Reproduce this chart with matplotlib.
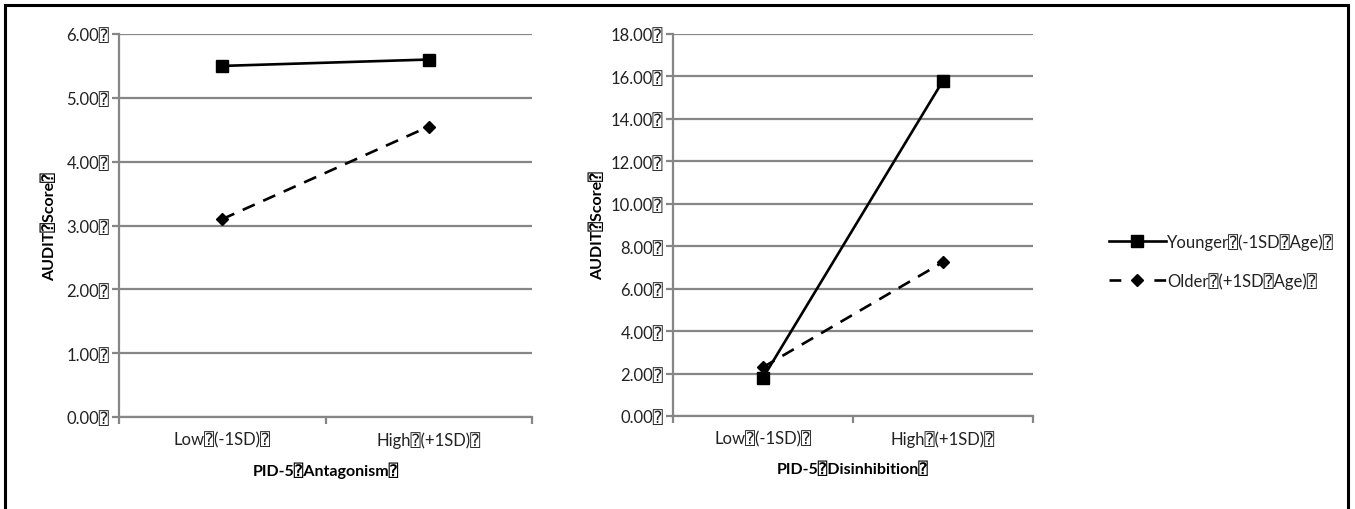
import matplotlib
matplotlib.use("Agg")
import matplotlib.pyplot as plt
from matplotlib.lines import Line2D
from matplotlib.patches import Rectangle

plt.rcParams['font.family'] = ['Lato', 'DejaVu Sans', 'DejaVu Sans Mono']

BOX = '\u2370'

categories = ['Low' + BOX + '(-1SD)' + BOX, 'High' + BOX + '(+1SD)' + BOX]
series_names = ['Younger' + BOX + '(-1SD' + BOX + 'Age)' + BOX,
                'Older' + BOX + '(+1SD' + BOX + 'Age)' + BOX]

antag_younger = [5.50, 5.60]
antag_older = [3.10, 4.55]
disinh_younger = [1.80, 15.80]
disinh_older = [2.30, 7.25]

antag_yticks = [0, 1, 2, 3, 4, 5, 6]
disinh_yticks = [0, 2, 4, 6, 8, 10, 12, 14, 16, 18]

xlabels = ['PID-5' + BOX + 'Antagonism' + BOX, 'PID-5' + BOX + 'Disinhibition' + BOX]
ylabel = 'AUDIT' + BOX + 'Score' + BOX

W, H = 1355, 510
fig = plt.figure(figsize=(W / 100, H / 100), dpi=100)

GRID = '#868686'
TXT = '#222222'
FS = 12

def make_ax(rect, young, old, yticks, xlabel, ylabelpad):
    ax = fig.add_axes(rect)
    x = [0.5, 1.5]
    ax.set_xlim(0, 2)
    ax.set_ylim(yticks[0], yticks[-1])
    ax.set_yticks(yticks)
    ax.set_yticklabels([f'{v:.2f}' + BOX for v in yticks])
    ax.yaxis.grid(True, color=GRID, linewidth=1.6)
    ax.set_axisbelow(True)
    ax.set_xticks(x)
    ax.set_xticklabels(categories)
    ax.set_xticks([0, 1, 2], minor=True)
    ax.tick_params(axis='x', which='major', length=0, pad=10, labelsize=FS, colors=TXT)
    ax.tick_params(axis='x', which='minor', length=5, width=1.6, color=GRID, direction='out')
    ax.tick_params(axis='y', length=5, width=1.6, color=GRID, pad=2, labelsize=FS, labelcolor=TXT)
    for s in ['top', 'right']:
        ax.spines[s].set_visible(False)
    for s in ['left', 'bottom']:
        ax.spines[s].set_color(GRID)
        ax.spines[s].set_linewidth(1.6)
    ax.plot(x, young, color='black', linewidth=1.9, marker='s', markersize=8.5, zorder=3, clip_on=False)
    ax.plot(x, old, color='black', linewidth=1.9, linestyle=(0, (5, 3.5)), marker='D',
            markersize=6.2, zorder=3, clip_on=False)
    ax.set_xlabel(xlabel, fontsize=11.5, fontweight='bold', labelpad=10)
    ax.set_ylabel(ylabel, fontsize=11.5, fontweight='bold', labelpad=ylabelpad)
    return ax

def frac(x0, x1, ytop, ybot):
    return [x0 / W, 1 - ybot / H, (x1 - x0) / W, (ybot - ytop) / H]

ax1 = make_ax(frac(119, 532, 35, 418), antag_younger, antag_older, antag_yticks, xlabels[0], 7)
ax2 = make_ax(frac(673, 1033, 35, 417), disinh_younger, disinh_older, disinh_yticks, xlabels[1], 4)

HL = 3.4
hl_pt = HL * FS
handles = [
    Line2D([], [], color='black', linewidth=1.9, marker='s', markersize=8.5),
    Line2D([], [], color='black', linewidth=1.9,
           linestyle=(0, (8.5 / 1.9, (hl_pt - 17) / 1.9)), marker='D', markersize=6.2),
]
fig.legend(handles, series_names, loc='center left', bbox_to_anchor=(1094 / W, 1 - 262 / H),
           frameon=False, fontsize=FS, handlelength=HL, handletextpad=0.1, labelspacing=1.3,
           labelcolor=TXT)

fig.patches.append(Rectangle((4.5 / W, -0.1), (1348 - 4.5) / W, 1.1 - 6 / H,
                             transform=fig.transFigure, fill=False, edgecolor='black',
                             linewidth=2.2, zorder=10))

fig.savefig('out.png', dpi=100)
